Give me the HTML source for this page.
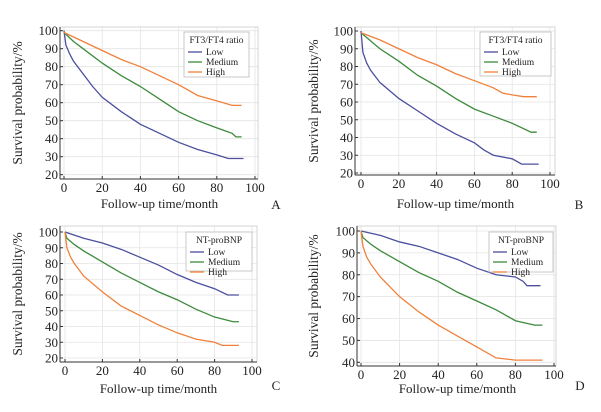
<!DOCTYPE html>
<html><head><meta charset="utf-8"><style>
body{margin:0;background:#fff;width:601px;height:407px;overflow:hidden}
svg text{font-family:"Liberation Serif","DejaVu Serif",serif}
</style></head><body>
<svg id="c" width="601" height="407" xmlns="http://www.w3.org/2000/svg" font-family="'Liberation Serif', 'DejaVu Serif', serif"></svg>
<script>
const xTicks=[0,20,40,60,80,100];
const yTicksAB=[20,30,40,50,60,70,80,90,100];
const yTicksD=[40,50,60,70,80,90,100];
const seriesNames=["Low","Medium","High"];
const colors=["#4b4f9e","#3c8a3c","#f0813c"];
// panel A
const aLowT=[0,1,3,5,10,15,20,30,40,50,60,70,80,86,94];
const aLowS=[100,92,87,83,76,69,63,55,48,43,38,34,31,29,29];
const aMedT=[0,5,10,20,30,40,50,60,70,80,88,90,93];
const aMedS=[99,94,90,82,75,69,62,55,50,46,43,41,41];
const aHighT=[0,10,20,30,40,50,60,70,80,88,93];
const aHighS=[99,94,89,84,80,75,70,64,61,58.5,58.5];
// panel B
const bLowT=[0,1,3,5,10,20,30,40,50,60,65,70,80,85,94];
const bLowS=[100,88,82,78,71,62,55,48,42,37,33,30,28,25,25];
const bMedT=[0,10,20,30,40,50,60,70,80,90,93];
const bMedS=[99,90,83,75,69,62,56,52,48,43,43];
const bHighT=[0,10,20,30,40,50,60,70,75,80,86,93];
const bHighS=[99,95,90,85,81,76,72,68,65,64,63,63];
// panel C
const cLowT=[0,10,20,30,40,50,60,70,80,87,93];
const cLowS=[100,96,93,89,84,79,73,68,64,60,60];
const cMedT=[0,1,5,10,20,30,40,50,60,70,80,90,93];
const cMedS=[100,96,92,88,81,74,68,62,57,51,46,43,43];
const cHighT=[0,1,3,5,10,20,30,40,50,60,70,80,84,93];
const cHighS=[100,90,84,80,72,62,53,47,41,36,32,30,28,28];
// panel D
const dLowT=[0,10,20,30,40,50,60,70,80,84,86,93];
const dLowS=[100,98,95,93,90,87,83,80,79,77,75,75];
const dMedT=[0,1,5,10,20,30,40,50,60,70,80,90,94];
const dMedS=[100,97,94,91,86,81,77,72,68,64,59,57,57];
const dHighT=[0,1,3,5,10,20,30,40,50,60,70,80,94];
const dHighS=[100,93,88,85,79,70,63,57,52,47,42,41,41];

const NS="http://www.w3.org/2000/svg";
const svg=document.getElementById('c');
const FF="'Liberation Serif', 'DejaVu Serif', serif";
function mk(tag,attrs,parent,text){const e=document.createElementNS(NS,tag);for(const k in attrs)e.setAttribute(k,attrs[k]);if(tag==='text')e.setAttribute('font-family',FF);if(text!=null)e.textContent=text;(parent||svg).appendChild(e);return e;}

const panels=[
 {id:"a",letter:"A",legend:"FT3/FT4 ratio",x0:64,x100:255,yMin:20,y100:30.7,yMinPx:174.7,ax:60,ab:179,top:27,right:258,yt:yTicksAB,
  lg:[184,32,65,45],s:[[aLowT,aLowS],[aMedT,aMedS],[aHighT,aHighS]],xt:208,lx:276,ly:209,ytx:22},
 {id:"b",letter:"B",legend:"FT3/FT4 ratio",x0:361,x100:550,yMin:20,y100:31,yMinPx:173,ax:355,ab:175,top:27,right:555,yt:yTicksAB,
  lg:[480,32,71,44],s:[[bLowT,bLowS],[bMedT,bMedS],[bHighT,bHighS]],xt:208,lx:579,ly:209,ytx:318},
 {id:"c",letter:"C",legend:"NT-proBNP",x0:65,x100:252,yMin:20,y100:232,yMinPx:358,ax:60,ab:362,top:226,right:257,yt:yTicksAB,
  lg:[186,232,66,39],s:[[cLowT,cLowS],[cMedT,cMedS],[cHighT,cHighS]],xt:393,lx:276,ly:390,ytx:22},
 {id:"d",letter:"D",legend:"NT-proBNP",x0:361,x100:554,yMin:40,y100:231,yMinPx:362.3,ax:357,ab:366,top:226,right:556,yt:yTicksD,
  lg:[489,232,64,40],s:[[dLowT,dLowS],[dMedT,dMedS],[dHighT,dHighS]],xt:393,lx:580,ly:390,ytx:318}
];

panels.forEach(p=>{
  const g=mk('g',{});
  
  
  const X=t=>p.x0+(p.x100-p.x0)*t/100;
  const Y=v=>p.yMinPx+(p.y100-p.yMinPx)*(v-p.yMin)/(100-p.yMin);
  xTicks.forEach(t=>{const l=mk('line',{x1:X(t),x2:X(t),y1:p.top,y2:p.ab,stroke:"#e4e4e4","stroke-width":0.8},g);});
  p.yt.forEach(v=>{const l=mk('line',{x1:p.ax,x2:p.right,y1:Y(v),y2:Y(v),stroke:"#e4e4e4","stroke-width":0.8},g);});
  const fr=mk('rect',{x:p.ax,y:p.top,width:p.right-p.ax,height:p.ab-p.top,fill:"none",stroke:"#ccc","stroke-width":0.8},g);
  
  const axY=mk('line',{x1:p.ax,x2:p.ax,y1:p.top,y2:p.ab,stroke:"#333","stroke-width":1},g);
  
  const axX=mk('line',{x1:p.ax,x2:p.right,y1:p.ab,y2:p.ab,stroke:"#333","stroke-width":1},g);
  
  xTicks.forEach(t=>{
    mk('line',{x1:X(t),x2:X(t),y1:p.ab,y2:p.ab-3,stroke:"#333"},g);
    const tx=mk('text',{x:X(t),y:p.ab+13,"font-size":13,"text-anchor":"middle",fill:"#222"},g,String(t));
    
  });
  p.yt.forEach(v=>{
    mk('line',{x1:p.ax,x2:p.ax+3,y1:Y(v),y2:Y(v),stroke:"#333"},g);
    const tx=mk('text',{x:p.ax-2,y:Y(v)+4.5,"font-size":13,"text-anchor":"end",fill:"#222"},g,String(v));
    
  });
  p.s.forEach((sr,i)=>{
    const [T,S]=sr;let d="M"+X(T[0])+","+Y(S[0]);
    for(let k=1;k<T.length;k++){d+=" L"+X(T[k])+","+Y(S[k]);}
    const path=mk('path',{d:d,fill:"none",stroke:colors[i],"stroke-width":1.3},g);
    
    
  });
  const [lx,ly,lw,lh]=p.lg;
  const lg=mk('g',{},g);
  
  mk('rect',{x:lx,y:ly,width:lw,height:lh,fill:"#fff",stroke:"#bbb","stroke-width":0.8},lg);
  const lt=mk('text',{x:lx+lw/2,y:ly+11,"font-size":9.5,"text-anchor":"middle",fill:"#222"},lg,p.legend);
  
  seriesNames.forEach((n,i)=>{
    const yy=ly+20+i*10;
    mk('line',{x1:lx+4,x2:lx+18,y1:yy,y2:yy,stroke:colors[i],"stroke-width":1.3},lg);
    const et=mk('text',{x:lx+22,y:yy+3,"font-size":9.5,fill:"#222"},lg,n);
    
  });
  const xt=mk('text',{x:(p.x0+p.x100)/2,y:p.xt,"font-size":13,"text-anchor":"middle",fill:"#222"},g,"Follow-up time/month");
  
  const cy=(p.top+p.ab)/2;
  const yt=mk('text',{x:p.ytx,y:cy,"font-size":13.5,"text-anchor":"middle",fill:"#222",transform:"rotate(-90 "+p.ytx+" "+cy+")"},g,"Survival probability/%");
  
  const pl=mk('text',{x:p.lx,y:p.ly,"font-size":13,"text-anchor":"middle",fill:"#222"},g,p.letter);
  
});
</script>
</body></html>
